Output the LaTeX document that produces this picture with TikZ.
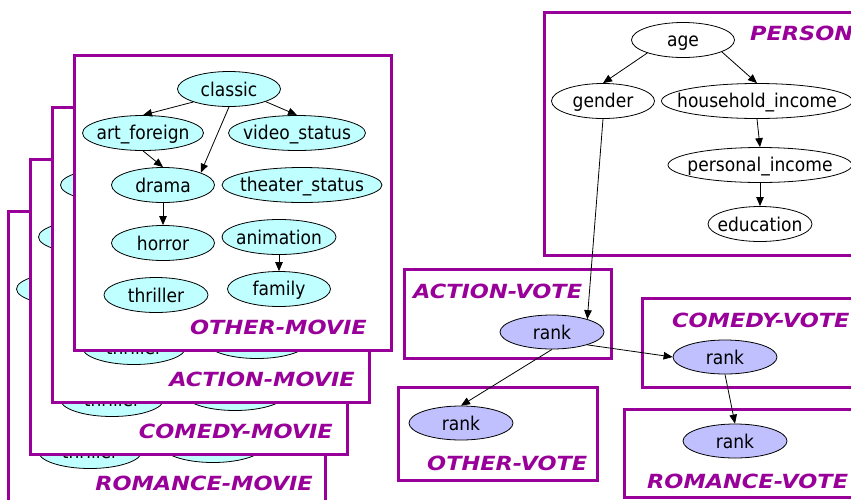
\documentclass[tikz,border=0pt]{standalone}
\usepackage{fontspec}
\usetikzlibrary{shapes.geometric,arrows.meta}
\newfontfamily\nodefont{DejaVu Sans}[FakeStretch=0.9]
\newfontfamily\labfont{DejaVu Sans}[FakeStretch=1.15]
\definecolor{bxpurple}{RGB}{153,0,153}
\definecolor{cyfill}{RGB}{192,255,255}
\definecolor{lvfill}{RGB}{192,192,255}
\newcommand\mk[1]{\makebox[0pt]{\rule[-3pt]{0pt}{20pt}#1}}
\tikzset{
  bx/.style={draw=bxpurple,line width=3pt},
  el/.style={ellipse,draw=black,line width=0.8pt,inner sep=0pt,minimum height=35pt,
    font=\nodefont\fontsize{19}{22}\selectfont},
  cy/.style={el,fill=cyfill},
  wt/.style={el,fill=white},
  lv/.style={el,fill=lvfill,minimum width=104pt,minimum height=34pt},
  lab/.style={text=bxpurple,inner sep=0pt,font=\labfont\bfseries\itshape\fontsize{19.5}{22}\selectfont},
  arr/.style={draw=black,line width=0.8pt,-{Triangle[length=9pt,width=7.5pt]}}
}
\newcommand\moviebox[5]{%
  \begin{scope}[shift={(#3,#4)}]
    \draw[bx,fill=white] (74,55) rectangle (391,350);
    \node[cy,minimum width=103pt] (#1cl) at (229,89) {\mk{classic}};
    \node[cy,minimum width=121pt] (#1af) at (143,133) {\mk{art\_foreign}};
    \node[cy,minimum width=137pt] (#1vs) at (297,133) {\mk{video\_status}};
    \node[cy,minimum width=103pt] (#1dr) at (163,185) {\mk{drama}};
    \node[cy,minimum width=160pt] (#1ts) at (302,185) {\mk{theater\_status}};
    \node[cy,minimum width=103pt] (#1ho) at (163,243) {\mk{horror}};
    \node[cy,minimum width=114pt] (#1an) at (279,237) {\mk{animation}};
    \node[cy,minimum width=104pt] (#1th) at (156,295) {\mk{thriller}};
    \node[cy,minimum width=103pt] (#1fa) at (279,289) {\mk{family}};
    \node[lab,anchor=base east] (#1lb) at (#5,334) {#2};
    \draw[arr] (#1cl.200) -- (#1af.north);
    \draw[arr] (#1cl.-19) -- (#1vs.north);
    \draw[arr] (#1cl.south) -- (#1dr.18);
    \draw[arr] (#1af.south) -- (#1dr.north);
    \draw[arr] (#1dr.south) -- (#1ho.north);
    \draw[arr] (#1an.south) -- (#1fa.north);
  \end{scope}}
\begin{document}
\begin{tikzpicture}[x=1pt,y=-1pt]
\useasboundingbox[fill=white] (0,0) rectangle (851,499);
\clip (0,0) rectangle (851,499);
% stacked movie boxes, back to front
\moviebox{rm}{ROMANCE-MOVIE}{-66}{156}{379}
\moviebox{cm}{COMEDY-MOVIE}{-44}{104}{377}
\moviebox{am}{ACTION-MOVIE}{-22}{52}{377}
\moviebox{om}{OTHER-MOVIE}{0}{0}{367}
% PERSON
\draw[bx] (544,12) rectangle (880,255);
\node[lab,anchor=base west] (plab) at (750,40) {PERSON};
\node[wt,minimum width=103pt] (age) at (683,40) {\mk{age}};
\node[wt,minimum width=103pt] (gender) at (603,101) {\mk{gender}};
\node[wt,minimum width=191pt] (hh) at (757,101) {\mk{household\_income}};
\node[wt,minimum width=184pt] (pi) at (760,165) {\mk{personal\_income}};
\node[wt,minimum width=104pt] (edu) at (760,224) {\mk{education}};
% votes
\draw[bx] (404,269) rectangle (611,358);
\node[lab,anchor=base west] (avlab) at (413,298) {ACTION-VOTE};
\node[lv] (ar) at (552,332) {\mk{rank}};
\draw[bx] (642,298) rectangle (880,387);
\node[lab,anchor=base west] (cvlab) at (672,327) {COMEDY-VOTE};
\node[lv] (cr) at (725,357) {\mk{rank}};
\draw[bx] (398,387) rectangle (597,480);
\node[lab,anchor=base west] (ovlab) at (427,470) {OTHER-VOTE};
\node[lv] (orr) at (461,423) {\mk{rank}};
\draw[bx] (624,409) rectangle (880,497);
\node[lab,anchor=base west] (rvlab) at (647,488) {ROMANCE-VOTE};
\node[lv] (rr) at (735,441) {\mk{rank}};
% edges
\draw[arr] (age.200) -- (gender.north);
\draw[arr] (age.-17) -- (hh.north);
\draw[arr] (hh.south) -- (pi.north);
\draw[arr] (pi.south) -- (edu.north);
\draw[arr] (gender.south) -- (ar.20);
\draw[arr] (ar.-20) -- (cr.west);
\draw[arr] (ar.south) -- (orr.north);
\draw[arr] (cr.south) -- (rr.north);
\end{tikzpicture}
\end{document}
